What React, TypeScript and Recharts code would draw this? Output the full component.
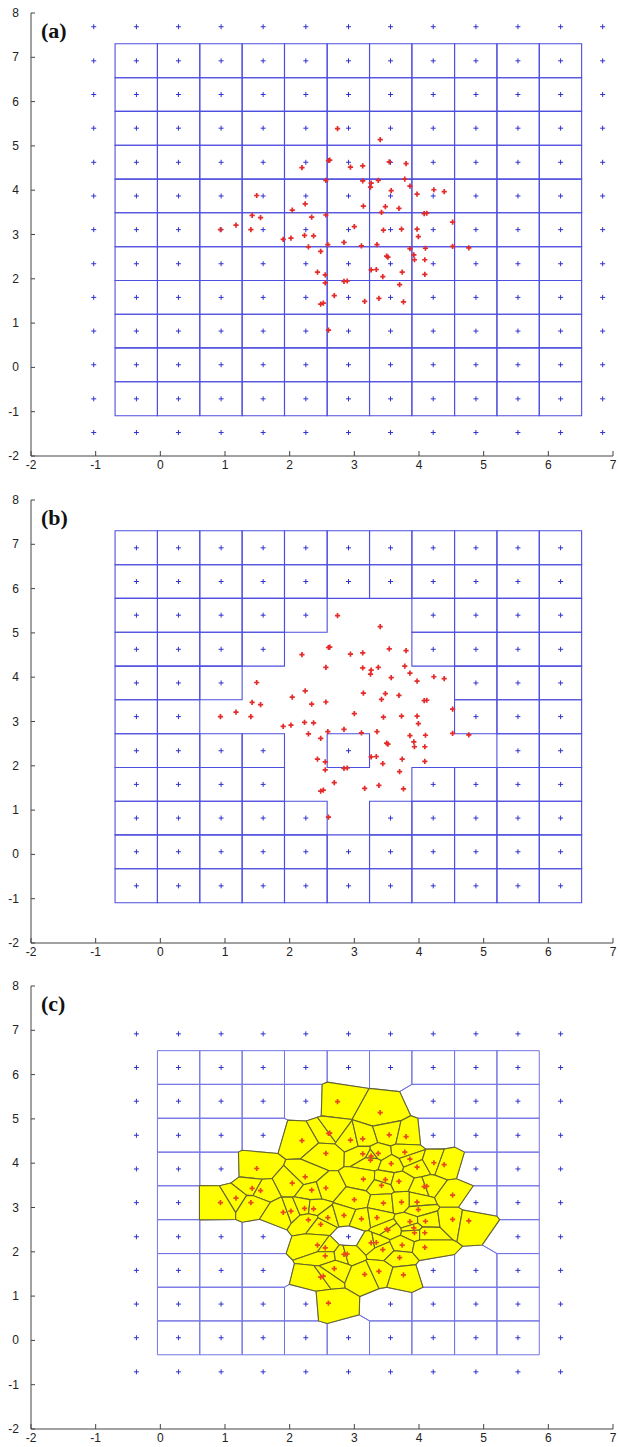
import React from 'react'
import { ScatterChart, Scatter, XAxis, YAxis, ReferenceArea } from 'recharts'

const xTicks = [-2, -1, 0, 1, 2, 3, 4, 5, 6, 7]
const yTicks = [-2, -1, 0, 1, 2, 3, 4, 5, 6, 7, 8]

// regular seed grid (13 x 13), outer ring only used in (a)
const gridX = [-1.03, -0.37, 0.28, 0.94, 1.59, 2.25, 2.91, 3.56, 4.22, 4.88, 5.53, 6.19, 6.84]
const gridY = [7.69, 6.92, 6.16, 5.40, 4.63, 3.87, 3.11, 2.34, 1.58, 0.82, 0.06, -0.71, -1.47]

// measured (red) points
const redX = [
  2.74, 3.40, 2.60, 2.62, 2.19, 2.94, 3.13, 3.54, 3.80, 2.56,
  3.13, 3.26, 3.25, 3.37, 3.78, 3.86, 3.57, 3.97, 4.23, 4.39,
  1.49, 2.24, 3.14, 3.48, 3.42, 3.69, 2.04, 1.42, 1.55, 2.34,
  2.56, 4.08, 4.12, 4.52, 1.17, 0.93, 1.40, 3.00, 3.45, 3.73,
  3.97, 3.99, 1.90, 2.02, 2.23, 2.37, 2.59, 2.84, 3.11, 3.35,
  2.29, 2.48, 3.86, 4.10, 4.52, 4.77, 3.92, 3.93, 4.09, 3.50,
  3.52, 2.43, 2.55, 2.55, 3.26, 3.34, 3.44, 3.74, 4.09, 2.84,
  2.89, 3.70, 2.69, 2.48, 2.52, 3.16, 3.38, 3.76, 2.60,
]
const redY = [
  5.39, 5.14, 4.67, 4.68, 4.51, 4.52, 4.55, 4.64, 4.60, 4.22,
  4.21, 4.16, 4.07, 4.22, 4.25, 4.09, 3.99, 3.91, 4.01, 3.97,
  3.88, 3.69, 3.64, 3.63, 3.50, 3.59, 3.55, 3.43, 3.38, 3.39,
  3.44, 3.47, 3.48, 3.28, 3.21, 3.11, 3.11, 3.18, 3.10, 3.12,
  3.12, 2.95, 2.89, 2.92, 2.98, 2.97, 2.77, 2.82, 2.745, 2.77,
  2.72, 2.62, 2.68, 2.69, 2.73, 2.70, 2.54, 2.43, 2.43, 2.51,
  2.49, 2.15, 2.09, 1.91, 2.20, 2.21, 2.05, 2.15, 2.10, 1.94,
  1.95, 1.87, 1.62, 1.43, 1.45, 1.49, 1.56, 1.48, 0.84,
]

const panelLabels = ['(a)', '(b)', '(c)']

type Pt = [number, number]

const clip = (poly: Pt[], a: number, b: number, c: number): Pt[] => {
  const out: Pt[] = []
  for (let i = 0; i < poly.length; i++) {
    const p = poly[i]
    const q = poly[(i + 1) % poly.length]
    const fp = a * p[0] + b * p[1] - c
    const fq = a * q[0] + b * q[1] - c
    if (fp <= 0) out.push(p)
    if ((fp < 0 && fq > 0) || (fp > 0 && fq < 0)) {
      const t = fp / (fp - fq)
      out.push([p[0] + t * (q[0] - p[0]), p[1] + t * (q[1] - p[1])])
    }
  }
  return out
}

// bounded voronoi cells, null for open ones
const voronoi = (sites: Pt[]): (Pt[] | null)[] => {
  const B = 100
  return sites.map((s, i) => {
    let poly: Pt[] = [[-B, -B], [B, -B], [B, B], [-B, B]]
    for (let j = 0; j < sites.length && poly.length; j++) {
      if (j === i) continue
      const t = sites[j]
      const a = t[0] - s[0]
      const b = t[1] - s[1]
      if (a * a + b * b < 1e-12) continue
      const c = (a * (t[0] + s[0]) + b * (t[1] + s[1])) / 2
      poly = clip(poly, a, b, c)
    }
    if (poly.length < 3) return null
    return poly.some(p => Math.abs(p[0]) > B / 2 || Math.abs(p[1]) > B / 2) ? null : poly
  })
}

const red: Pt[] = redX.map((x, i) => [x, redY[i]])
const allGrid: Pt[] = []
gridY.forEach(y => gridX.forEach(x => allGrid.push([x, y])))
const gridCells = voronoi(allGrid)

const inside = (poly: Pt[], p: Pt) => {
  const xs = poly.map(v => v[0])
  const ys = poly.map(v => v[1])
  return p[0] >= Math.min(...xs) && p[0] <= Math.max(...xs) && p[1] >= Math.min(...ys) && p[1] <= Math.max(...ys)
}

// grid points whose cell holds no measured point
const keptIdx = allGrid
  .map((_, i) => i)
  .filter(i => gridCells[i] && !red.some(r => inside(gridCells[i] as Pt[], r)))
const keptGrid = keptIdx.map(i => allGrid[i])

const mixedSites = [...keptGrid, ...red]
const mixedCells = voronoi(mixedSites)

type Cell = { poly: Pt[]; fill: string; stroke: string; width: number }

const blueLine = '#4e4ee0'
const cellsA: Cell[] = gridCells.filter(Boolean).map(p => ({ poly: p as Pt[], fill: 'none', stroke: blueLine, width: 1.1 }))
const cellsB: Cell[] = keptIdx.map(i => ({ poly: gridCells[i] as Pt[], fill: 'none', stroke: blueLine, width: 1.1 }))
const cellsC: Cell[] = []
mixedCells.forEach((p, i) => {
  if (p && i < keptGrid.length) cellsC.push({ poly: p, fill: 'none', stroke: '#7474e4', width: 1 })
})
mixedCells.forEach((p, i) => {
  if (p && i >= keptGrid.length) cellsC.push({ poly: p, fill: '#ffff00', stroke: '#66662a', width: 1.1 })
})

const toData = (pts: Pt[]) => pts.map(p => ({ x: p[0], y: p[1] }))

const polyShape = (cell: Cell, x0: number, x1: number, y0: number, y1: number) => (props: any) => {
  const { x, y, width, height } = props
  const pts = cell.poly
    .map(([vx, vy]) => `${x + ((vx - x0) / (x1 - x0)) * width},${y + ((y1 - vy) / (y1 - y0)) * height}`)
    .join(' ')
  return <polygon points={pts} fill={cell.fill} stroke={cell.stroke} strokeWidth={cell.width} />
}

const plus = (color: string, r: number, w: number) => (props: any) => {
  const { cx, cy } = props
  return (
    <path d={`M${cx - r},${cy}H${cx + r}M${cx},${cy - r}V${cy + r}`} stroke={color} strokeWidth={w} fill="none" />
  )
}

const axisColor = '#444'
const tickFont = { fontFamily: 'Liberation Sans, Arial, sans-serif', fontSize: 12, fill: '#222' }

const YTick = (props: any) => {
  const { x, y, payload } = props
  return (
    <g>
      <line x1={x + 12} x2={x + 16} y1={y} y2={y} stroke={axisColor} />
      <text x={x} y={y + 4} textAnchor="end" {...tickFont}>{payload.value}</text>
    </g>
  )
}

const XTick = (props: any) => {
  const { x, y, payload } = props
  return (
    <g>
      <line x1={x} x2={x} y1={y} y2={y - 5} stroke={axisColor} />
      <text x={x} y={y + 13} textAnchor="middle" {...tickFont}>{payload.value}</text>
    </g>
  )
}

const Panel = ({ label, cells, blue, redOn, redColor }: { label: string; cells: Cell[]; blue: Pt[]; redOn: Pt[]; redColor: string }) => (
  <div style={{ position: 'relative', width: 620, height: 487 }}>
    <ScatterChart width={620} height={487} margin={{ top: 13, right: 7, bottom: 0, left: 0 }}>
      <XAxis
        type="number"
        dataKey="x"
        domain={[-2, 7]}
        ticks={xTicks}
        interval={0}
        height={31}
        tickSize={0}
        tickMargin={0}
        tickLine={false}
        axisLine={{ stroke: axisColor }}
        tick={<XTick />}
        allowDataOverflow
      />
      <YAxis
        type="number"
        dataKey="y"
        domain={[-2, 8]}
        ticks={yTicks}
        interval={0}
        width={31}
        tickSize={0}
        tickMargin={12}
        tickLine={false}
        axisLine={{ stroke: axisColor }}
        tick={<YTick />}
        allowDataOverflow
      />
      {cells.map((c, i) => {
        const xs = c.poly.map(p => p[0])
        const ys = c.poly.map(p => p[1])
        const x0 = Math.min(...xs)
        const x1 = Math.max(...xs)
        const y0 = Math.min(...ys)
        const y1 = Math.max(...ys)
        return (
          <ReferenceArea
            key={i}
            x1={x0}
            x2={x1}
            y1={y0}
            y2={y1}
            ifOverflow="visible"
            shape={polyShape(c, x0, x1, y0, y1)}
          />
        )
      })}
      <Scatter data={toData(blue)} shape={plus('#3232d2', 2.5, 1)} isAnimationActive={false} />
      <Scatter data={toData(redOn)} shape={plus(redColor, 2.6, 1.7)} isAnimationActive={false} />
    </ScatterChart>
    <div
      style={{
        position: 'absolute',
        left: 41,
        top: 18,
        fontFamily: 'Liberation Serif, Times New Roman, serif',
        fontWeight: 'bold',
        fontSize: 22,
        lineHeight: '26px',
        color: '#111',
      }}
    >
      {label}
    </div>
  </div>
)

export default function App() {
  return (
    <div style={{ position: 'absolute', left: 0, top: 0, width: 620, background: '#fff' }}>
      <Panel label={panelLabels[0]} cells={cellsA} blue={allGrid} redOn={red} redColor="#e52a2a" />
      <div style={{ height: 0 }} />
      <Panel label={panelLabels[1]} cells={cellsB} blue={keptGrid} redOn={red} redColor="#e52a2a" />
      <div style={{ marginTop: -1 }} />
      <Panel label={panelLabels[2]} cells={cellsC} blue={keptGrid} redOn={red} redColor="#e8481c" />
    </div>
  )
}
